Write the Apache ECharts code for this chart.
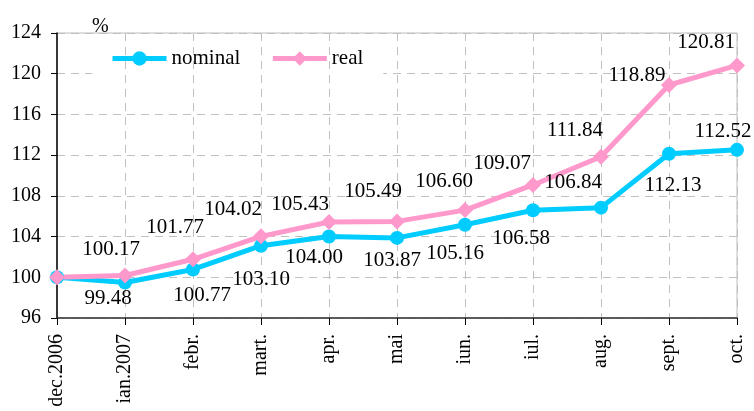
<!DOCTYPE html>
<html>
<head>
<meta charset="utf-8">
<script src="https://cdn.jsdelivr.net/npm/echarts@6/dist/echarts.min.js"></script>
<style>
  html, body { margin: 0; padding: 0; background: #fff; }
  #chartView { width: 754px; height: 411px; }
</style>
</head>
<body>
<div id="chartView"></div>
<script>
// data
var months = ['dec.2006', 'ian.2007', 'febr.', 'mart.', 'apr.', 'mai', 'iun.', 'iul.', 'aug.', 'sept.', 'oct.'];
var nominal = [100, 99.48, 100.77, 103.10, 104.00, 103.87, 105.16, 106.58, 106.84, 112.13, 112.52];
var real = [100, 100.17, 101.77, 104.02, 105.43, 105.49, 106.60, 109.07, 111.84, 118.89, 120.81];
var yTicks = [96, 100, 104, 108, 112, 116, 120, 124];

// where each value label sits relative to its point
var nominalOffsets = [[0, 0], [-17, 16], [9, 26], [0, 34], [-15, 21], [-5, 23], [-10, 29], [-12, 28], [-28, -25], [4, 32], [-14, -18]];
var realOffsets = [[0, 0], [-14, -26], [-18, -32], [-28, -27], [-29, -18], [-24, -30], [-21, -29], [-31, -21], [-26, -26], [-32, -10], [-31, -23]];

var font = '"Liberation Serif", "Times New Roman", serif';

function withLabels(values, offsets) {
    return values.map(function (v, i) {
        return {
            value: v,
            label: {
                show: i > 0,
                position: 'inside',
                offset: offsets[i],
                formatter: function (p) { return p.value.toFixed(2); }
            }
        };
    });
}

var myChart = echarts.init(document.getElementById('chartView'));
var options = {
    animation: false,
    textStyle: { fontFamily: font, color: '#000' },
    grid: {
        left: 57, right: 17, top: 33, bottom: 93,
        show: true,
        borderColor: '#bdbdbd',
        borderWidth: 1
    },
    legend: {
        left: 92,
        top: 45,
        z: 1,
        backgroundColor: '#fff',
        padding: [3, 20, 7, 18],
        itemWidth: 54,
        itemHeight: 18,
        itemGap: 30,
        lineStyle: { width: 5 },
        textStyle: { fontFamily: font, fontSize: 21, color: '#000' },
        data: ['nominal', 'real']
    },
    xAxis: {
        type: 'category',
        boundaryGap: false,
        z: 2,
        data: months,
        axisLine: { lineStyle: { color: '#333', width: 1.5 } },
        axisTick: { show: true, length: 7, lineStyle: { color: '#000' } },
        axisLabel: {
            rotate: 90,
            interval: 0,
            margin: 16,
            fontFamily: font,
            fontSize: 20,
            color: '#000'
        },
        splitLine: {
            show: true,
            interval: function (i) { return i > 0; },
            lineStyle: { color: '#c0c0c0', type: [8, 6] }
        }
    },
    yAxis: {
        type: 'value',
        min: yTicks[0],
        max: yTicks[yTicks.length - 1],
        interval: 4,
        z: 0,
        name: '%',
        nameLocation: 'end',
        nameGap: -4,
        nameTextStyle: { fontFamily: font, fontSize: 20, color: '#000', align: 'left', padding: [0, 0, 0, 35] },
        axisLine: { show: true, lineStyle: { color: '#000', width: 1.5 } },
        axisTick: { show: true, length: 6, lineStyle: { color: '#000' } },
        axisLabel: { fontFamily: font, fontSize: 20, color: '#000', margin: 16 },
        splitLine: { show: true, lineStyle: { color: '#c0c0c0', type: [8, 6] } }
    },
    series: [
        {
            name: 'nominal',
            type: 'line',
            z: 3,
            data: withLabels(nominal, nominalOffsets),
            symbol: 'circle',
            symbolSize: 14,
            lineStyle: { color: '#00ccff', width: 5 },
            itemStyle: { color: '#00ccff' },
            label: { fontFamily: font, fontSize: 21, color: '#000' }
        },
        {
            name: 'real',
            type: 'line',
            z: 3,
            data: withLabels(real, realOffsets),
            symbol: 'diamond',
            symbolSize: 16,
            lineStyle: { color: '#ff99cc', width: 5 },
            itemStyle: { color: '#ff99cc' },
            label: { fontFamily: font, fontSize: 21, color: '#000' }
        }
    ]
};
myChart.setOption(options);
</script>
</body>
</html>
